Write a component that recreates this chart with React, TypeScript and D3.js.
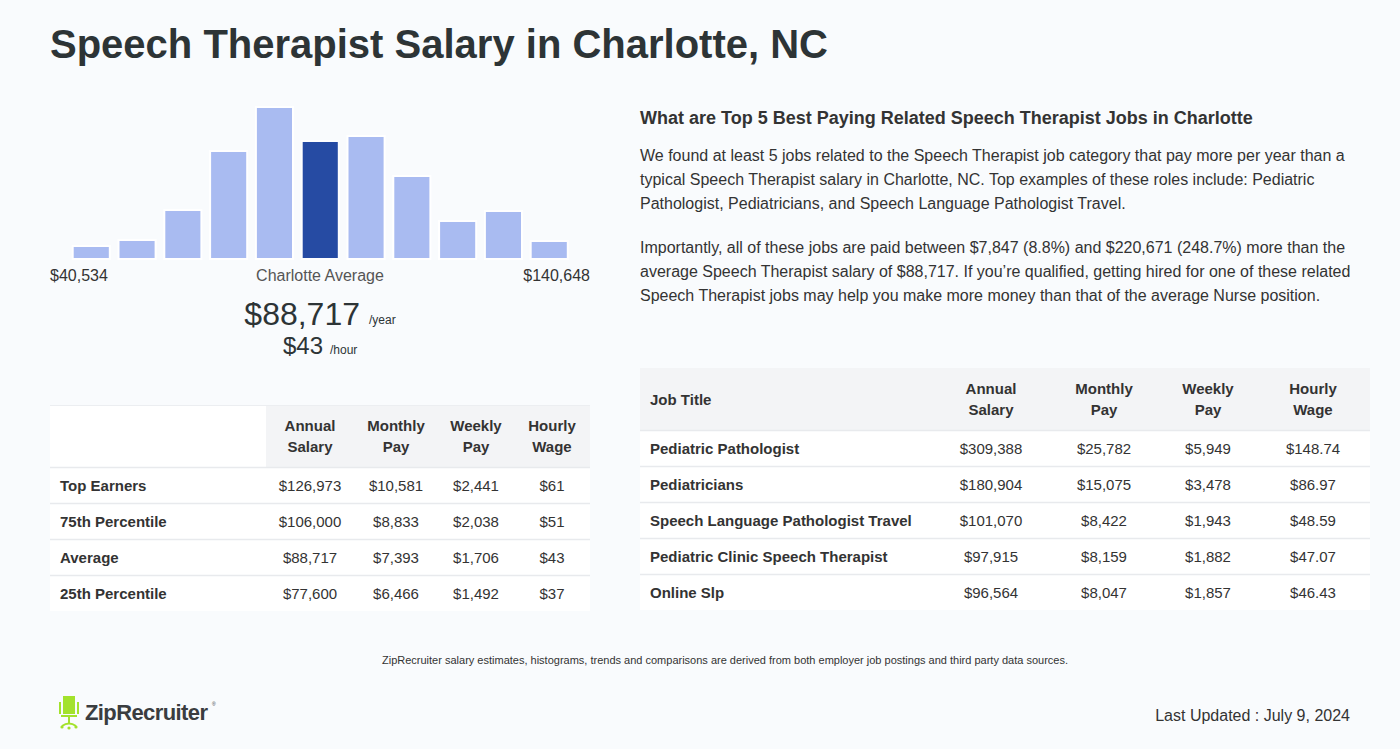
import React from "react";
import * as d3 from "d3";

const histValues = [13, 19, 49, 108, 152, 118, 123, 83, 38, 48, 18];
const highlightIndex = 5;
const minLabel = "$40,534";
const maxLabel = "$140,648";
const avgLabel = "Charlotte Average";
const avgYear = "$88,717";
const avgHour = "$43";

const leftHeaders = [["Annual", "Salary"], ["Monthly", "Pay"], ["Weekly", "Pay"], ["Hourly", "Wage"]];
const leftRowLabels = ["Top Earners", "75th Percentile", "Average", "25th Percentile"];
const leftAnnual = ["$126,973", "$106,000", "$88,717", "$77,600"];
const leftMonthly = ["$10,581", "$8,833", "$7,393", "$6,466"];
const leftWeekly = ["$2,441", "$2,038", "$1,706", "$1,492"];
const leftHourly = ["$61", "$51", "$43", "$37"];

const rightHeaders = [["Annual", "Salary"], ["Monthly", "Pay"], ["Weekly", "Pay"], ["Hourly", "Wage"]];
const jobTitles = ["Pediatric Pathologist", "Pediatricians", "Speech Language Pathologist Travel", "Pediatric Clinic Speech Therapist", "Online Slp"];
const jobAnnual = ["$309,388", "$180,904", "$101,070", "$97,915", "$96,564"];
const jobMonthly = ["$25,782", "$15,075", "$8,422", "$8,159", "$8,047"];
const jobWeekly = ["$5,949", "$3,478", "$1,943", "$1,882", "$1,857"];
const jobHourly = ["$148.74", "$86.97", "$48.59", "$47.07", "$46.43"];

const heading = "What are Top 5 Best Paying Related Speech Therapist Jobs in Charlotte";
const para1 = [
  "We found at least 5 jobs related to the Speech Therapist job category that pay more per year than a",
  "typical Speech Therapist salary in Charlotte, NC. Top examples of these roles include: Pediatric",
  "Pathologist, Pediatricians, and Speech Language Pathologist Travel.",
];
const para2 = [
  "Importantly, all of these jobs are paid between $7,847 (8.8%) and $220,671 (248.7%) more than the",
  "average Speech Therapist salary of $88,717. If you\u2019re qualified, getting hired for one of these related",
  "Speech Therapist jobs may help you make more money than that of the average Nurse position.",
];

const FONT = "'Liberation Sans', Arial, Helvetica, sans-serif";
const DARK = "#2d3436";
const TEXT = "#333333";

export default function App() {
  const W = 1400, H = 749;
  const x = d3.scaleBand<number>().domain(d3.range(histValues.length)).range([69.5, 571]).paddingInner(0.19).paddingOuter(0.07);
  const y = d3.scaleLinear().domain([0, d3.max(histValues) as number]).range([259, 107]);

  const lCols = [310, 396, 476, 552];
  const lRows = d3.scaleBand<number>().domain(d3.range(leftRowLabels.length)).range([467, 611]);
  const leftCells = [leftAnnual, leftMonthly, leftWeekly, leftHourly];

  const rCols = [991, 1104, 1208, 1313];
  const rRows = d3.scaleBand<number>().domain(d3.range(jobTitles.length)).range([430, 610]);
  const rightCells = [jobAnnual, jobMonthly, jobWeekly, jobHourly];

  return (
    <div style={{ position: "absolute", left: 0, top: 0 }}>
      <svg width={W} height={H} style={{ display: "block", fontFamily: FONT }}>
        <rect width={W} height={H} fill="#f9fbfd" />
        <text x={50} y={58} fontSize={40} fontWeight={700} fill={DARK}>
          Speech Therapist Salary in Charlotte, NC
        </text>

        {histValues.map((v, i) => (
          <rect
            key={i}
            x={x(i)}
            y={y(v)}
            width={x.bandwidth()}
            height={259 - y(v)}
            fill={i === highlightIndex ? "#264ba3" : "#a9bbf1"}
            stroke="#ffffff"
            strokeWidth={2}
          />
        ))}
        <text x={50} y={281} fontSize={16} fill={TEXT}>{minLabel}</text>
        <text x={320} y={281} fontSize={16} fill="#555" textAnchor="middle">{avgLabel}</text>
        <text x={590} y={281} fontSize={16} fill={TEXT} textAnchor="end">{maxLabel}</text>
        <text x={360} y={325} fontSize={32} fill={DARK} textAnchor="end">{avgYear}</text>
        <text x={369} y={324} fontSize={12} fill={DARK}>/year</text>
        <text x={323} y={354} fontSize={24} fill={DARK} textAnchor="end">{avgHour}</text>
        <text x={330} y={354} fontSize={12} fill={DARK}>/hour</text>

        <rect x={50} y={405} width={540} height={206} fill="#ffffff" />
        <rect x={266} y={405} width={324} height={62} fill="#f3f4f6" />
        <line x1={50} x2={590} y1={405.5} y2={405.5} stroke="#eceef1" />
        {leftHeaders.map((h, j) => (
          <text key={j} fontSize={15} fontWeight={700} fill={TEXT} textAnchor="middle">
            <tspan x={lCols[j]} y={431}>{h[0]}</tspan>
            <tspan x={lCols[j]} y={452}>{h[1]}</tspan>
          </text>
        ))}
        {leftRowLabels.map((r, i) => {
          const top = lRows(i) as number;
          const cy = top + lRows.bandwidth() / 2 + 6;
          return (
            <g key={i}>
              <line x1={50} x2={590} y1={top + 0.5} y2={top + 0.5} stroke="#e8eaed" strokeWidth={1.5} />
              <text x={60} y={cy} fontSize={15} fontWeight={700} fill={TEXT}>{r}</text>
              {leftCells.map((col, j) => (
                <text key={j} x={lCols[j]} y={cy} fontSize={15} fill={TEXT} textAnchor="middle">{col[i]}</text>
              ))}
            </g>
          );
        })}

        <text x={640} y={124} fontSize={18} fontWeight={700} fill={TEXT}>{heading}</text>
        {para1.map((l, i) => (
          <text key={"p1" + i} x={640} y={161 + i * 24} fontSize={16} fill={TEXT}>{l}</text>
        ))}
        {para2.map((l, i) => (
          <text key={"p2" + i} x={640} y={253 + i * 24} fontSize={16} fill={TEXT}>{l}</text>
        ))}

        <rect x={640} y={368} width={730} height={242} fill="#ffffff" />
        <rect x={640} y={368} width={730} height={62} fill="#f3f4f6" />
        <text x={650} y={405} fontSize={15} fontWeight={700} fill={TEXT}>Job Title</text>
        {rightHeaders.map((h, j) => (
          <text key={j} fontSize={15} fontWeight={700} fill={TEXT} textAnchor="middle">
            <tspan x={rCols[j]} y={394}>{h[0]}</tspan>
            <tspan x={rCols[j]} y={415}>{h[1]}</tspan>
          </text>
        ))}
        {jobTitles.map((t, i) => {
          const top = rRows(i) as number;
          const cy = top + rRows.bandwidth() / 2 + 6;
          return (
            <g key={i}>
              <line x1={640} x2={1370} y1={top + 0.5} y2={top + 0.5} stroke="#e8eaed" strokeWidth={1.5} />
              <text x={650} y={cy} fontSize={15} fontWeight={700} fill={TEXT}>{t}</text>
              {rightCells.map((col, j) => (
                <text key={j} x={rCols[j]} y={cy} fontSize={15} fill={TEXT} textAnchor="middle">{col[i]}</text>
              ))}
            </g>
          );
        })}

        <text x={725} y={664} fontSize={11} fill={TEXT} textAnchor="middle">
          ZipRecruiter salary estimates, histograms, trends and comparisons are derived from both employer job postings and third party data sources.
        </text>
        <g>
          <path d="M63,696 h12 v18 h-12 z" fill="#a3e22c" />
          <path d="M60,702 v12 M78,702 v12" stroke="#a3e22c" strokeWidth={2} />
          <path d="M61,715 h16 v2 h-16 z" fill="#a3e22c" />
          <path d="M69,717 v7 M62,726 q7,-5 14,0" stroke="#a3e22c" strokeWidth={2} fill="none" />
          <circle cx={62} cy={727} r={1.6} fill="#a3e22c" />
          <circle cx={76} cy={727} r={1.6} fill="#a3e22c" />
          <circle cx={69} cy={728} r={1.6} fill="#a3e22c" />
          <text x={85} y={720} fontSize={22} fontWeight={700} fill="#3a3d40" letterSpacing={-0.6}>ZipRecruiter</text>
          <text x={212} y={706} fontSize={5} fill="#3a3d40">®</text>
        </g>
        <text x={1350} y={721} fontSize={16} fill={TEXT} textAnchor="end">Last Updated : July 9, 2024</text>
      </svg>
    </div>
  );
}
